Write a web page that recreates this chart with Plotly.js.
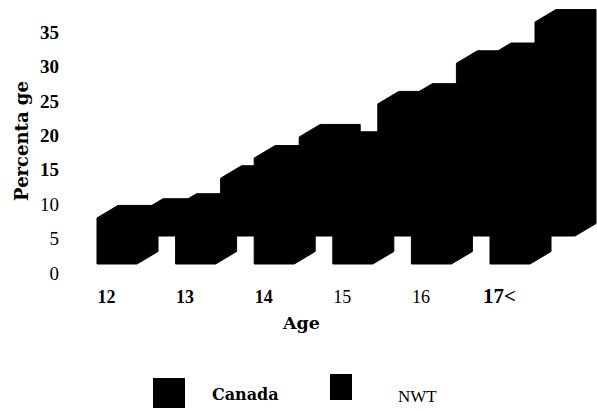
<!DOCTYPE html>
<html>
<head>
<meta charset="utf-8">
<script src="https://cdn.plot.ly/plotly-3.0.1.min.js"></script>
<style>html,body{margin:0;padding:0;background:#fff;}#chart{width:597px;height:411px;}</style>
</head>
<body>
<div id="chart"></div>
<script>
// ---- data ----
const ages = ['12', '13', '14', '15', '16', '17<'];
const canada = [6.7, 8.4, 15.4, 17.4, 24.4, 30.3];
const nwt = [3.6, 8.4, 14.4, 19.2, 25.1, 31.1];
const seriesNames = ['Canada', 'NWT'];
const yTicks = [0, 5, 10, 15, 20, 25, 30, 35];

// ---- styling / pseudo-3D geometry (in axis units) ----
const PX_X = 78.6, PX_Y = 6.88;           // pixels per category / per percent
const barW = 40 / PX_X;
const depthX = 21 / PX_X, depthY = 12.5 / PX_Y;
const rows = [
  {values: canada, offX: -9.5 / PX_X, floor: 9 / PX_Y},   // front row
  {values: nwt,    offX: 35.5 / PX_X, floor: 37 / PX_Y}   // back row
];
const boldX = [true, true, true, false, false, true];
const boldY = [false, false, false, true, true, true, true, true];
const SERIF = 'Liberation Serif';
const WIDE = 'DejaVu Serif';

function rowTrace(row, name) {
  const xs = [], ys = [];
  row.values.forEach((v, i) => {
    const L = i + row.offX, R = L + barW, B = row.floor, T = B + v;
    xs.push(L, R, R + depthX, R + depthX, L + depthX, L, L, null);
    ys.push(B, B, B + depthY, T + depthY, T + depthY, T, B, null);
  });
  return {
    type: 'scatter', mode: 'lines', x: xs, y: ys, name: name,
    fill: 'toself', fillcolor: '#000', line: {color: '#000', width: 1},
    hoverinfo: 'skip', showlegend: false
  };
}

const traces = [rowTrace(rows[1], seriesNames[1]), rowTrace(rows[0], seriesNames[0])];

const esc = s => s.replace(/</g, '&lt;');
const xTickText = ages.map((a, i) => {
  if (a.indexOf('<') >= 0) return '<b><span style="font-size:21px">' + esc(a) + '</span></b>';
  return boldX[i] ? '<b>' + esc(a) + '</b>' : esc(a);
});
const yTickText = yTicks.map((t, i) => boldY[i] ? '<b>' + t + '</b>' : String(t));

const L_M = 60, B_M = 129, W = 597, H = 411;
const plotH = H - B_M, plotW = W - L_M;
const px2x = p => (p - L_M) / plotW;
const px2y = p => (plotH - p) / plotH;

const layout = {
  width: W, height: H, autosize: false,
  margin: {l: L_M, r: 0, t: 0, b: B_M, pad: 0},
  paper_bgcolor: '#fff', plot_bgcolor: '#fff',
  showlegend: false,
  font: {family: SERIF, color: '#000', size: 18},
  xaxis: {
    range: [(L_M - 106.5) / PX_X, (W - 106.5) / PX_X],
    tickmode: 'array', tickvals: ages.map((a, i) => i), ticktext: xTickText,
    showgrid: false, zeroline: false, showline: false, ticks: '',
    tickfont: {family: SERIF, size: 18, color: '#000'},
    ticklabelstandoff: 2,
    fixedrange: true
  },
  yaxis: {
    range: [(273 - plotH) / PX_Y, 273 / PX_Y],
    tickmode: 'array', tickvals: yTicks, ticktext: yTickText,
    showgrid: false, zeroline: false, showline: false, ticks: '',
    tickfont: {family: SERIF, size: 19, color: '#000'},
    title: {text: '<b>Percenta ge</b>', standoff: 6,
            font: {family: WIDE, size: 18, color: '#000'}},
    fixedrange: true
  },
  annotations: [
    {xref: 'paper', yref: 'paper', x: px2x(301), y: px2y(323), xanchor: 'center', yanchor: 'middle',
     text: '<b>Age</b>', showarrow: false, font: {family: WIDE, size: 17.5, color: '#000'}},
    {xref: 'paper', yref: 'paper', x: px2x(210), y: px2y(394), xanchor: 'left', yanchor: 'middle',
     text: '<b>' + seriesNames[0] + '</b>', showarrow: false, font: {family: WIDE, size: 16, color: '#000'}},
    {xref: 'paper', yref: 'paper', x: px2x(396), y: px2y(396), xanchor: 'left', yanchor: 'middle',
     text: seriesNames[1], showarrow: false, font: {family: SERIF, size: 17, color: '#000'}}
  ],
  shapes: [
    {type: 'rect', xref: 'paper', yref: 'paper', x0: px2x(153), x1: px2x(185), y0: px2y(408), y1: px2y(378),
     fillcolor: '#000', line: {width: 0}},
    {type: 'rect', xref: 'paper', yref: 'paper', x0: px2x(330), x1: px2x(352), y0: px2y(400), y1: px2y(374),
     fillcolor: '#000', line: {width: 0}}
  ]
};

Plotly.newPlot('chart', traces, layout, {staticPlot: true, displayModeBar: false});
</script>
</body>
</html>
